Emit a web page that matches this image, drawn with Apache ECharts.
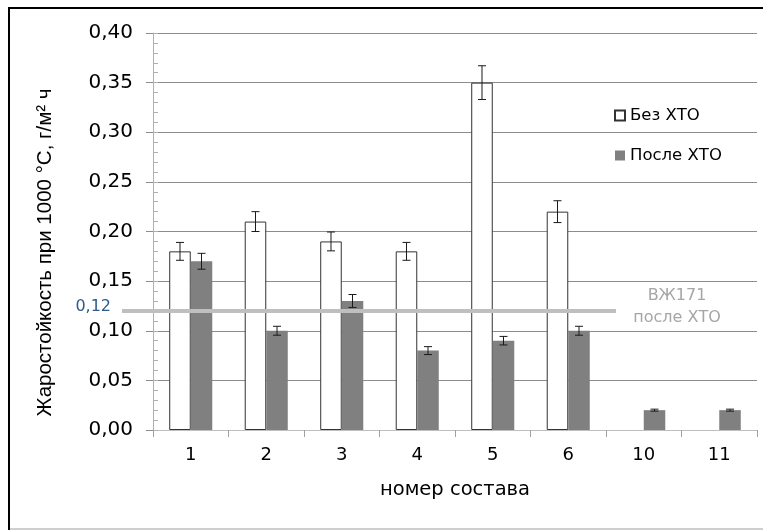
<!DOCTYPE html>
<html>
<head>
<meta charset="utf-8">
<script src="https://cdn.jsdelivr.net/npm/echarts@6/dist/echarts.min.js"></script>
<style>
  html, body { margin: 0; padding: 0; background: #fff; }
  #chart { width: 763px; height: 530px; }
</style>
</head>
<body>
<div id="chart"></div>
<script>
// Composition numbers along the x axis
const categories = ['1', '2', '3', '4', '5', '6', '10', '11'];

// Oxidation rate, g/(m²·h), without chemical-thermal treatment
const withoutTreatment    = [0.18, 0.21, 0.19, 0.18, 0.35, 0.22, null, null];
const withoutTreatmentErr = [0.009, 0.010, 0.0095, 0.009, 0.017, 0.011, null, null];

// Oxidation rate after chemical-thermal treatment
const afterTreatment    = [0.17, 0.10, 0.13, 0.08, 0.09, 0.10, 0.02, 0.02];
const afterTreatmentErr = [0.008, 0.0045, 0.0065, 0.004, 0.0043, 0.0045, 0.001, 0.001];

// Reference level for alloy ВЖ171 after treatment
const referenceValue = 0.12;
const referenceText = 'ВЖ171\nпосле ХТО';

const seriesNames = ['Без ХТО', 'После ХТО'];
const yMin = 0, yMax = 0.40, yStep = 0.05, yMinorStep = 0.01;

const FONT = 'DejaVu Sans, sans-serif';
const FONT_NARROW = 'Liberation Sans, Arial, sans-serif';
const BAR_FRACTION = 0.285;

const fmt = v => v.toFixed(2).replace('.', ',');

function errorItems(values, errs) {
  const out = [];
  values.forEach((v, i) => { if (v != null && errs[i] != null) out.push([i, v, errs[i]]); });
  return out;
}

function errorBarRenderer(side) {
  return function (params, api) {
    const idx = api.value(0);
    const v = api.value(1);
    const e = api.value(2);
    const band = api.size([1, 0])[0];
    const cx = api.coord([idx, v])[0] + side * band * BAR_FRACTION / 2;
    const yTop = api.coord([idx, v + e])[1];
    const yBot = api.coord([idx, v - e])[1];
    const cap = 4;
    const style = { stroke: '#1a1a1a', lineWidth: 1 };
    return {
      type: 'group',
      children: [
        { type: 'line', shape: { x1: cx, y1: yTop, x2: cx, y2: yBot }, style },
        { type: 'line', shape: { x1: cx - cap, y1: yTop, x2: cx + cap, y2: yTop }, style },
        { type: 'line', shape: { x1: cx - cap, y1: yBot, x2: cx + cap, y2: yBot }, style }
      ]
    };
  };
}

const chart = echarts.init(document.getElementById('chart'), null, { renderer: 'canvas' });

chart.setOption({
  animation: false,
  backgroundColor: '#fff',
  textStyle: { fontFamily: FONT },
  grid: { left: 153, right: 6, top: 33, bottom: 100, containLabel: false },
  legend: {
    data: seriesNames,
    orient: 'vertical',
    left: 609,
    top: 102,
    itemWidth: 10,
    itemHeight: 10,
    itemGap: 23,
    icon: 'rect',
    textStyle: { fontFamily: FONT, fontSize: 16.5, color: '#000' }
  },
  xAxis: {
    type: 'category',
    data: categories,
    name: 'номер состава',
    nameLocation: 'middle',
    nameGap: 50,
    nameTextStyle: { fontFamily: FONT, fontSize: 19.5, color: '#000' },
    axisLine: { lineStyle: { color: '#bfbfbf', width: 1 } },
    axisTick: { show: true, length: 7, lineStyle: { color: '#a0a0a0' } },
    axisLabel: { fontFamily: FONT, fontSize: 18, color: '#000', margin: 16 }
  },
  yAxis: [
    {
      type: 'value',
      min: yMin, max: yMax, interval: yStep,
      name: 'Жаростойкость при 1000 °С, г/м² ч',
      nameLocation: 'middle',
      nameGap: 97,
      nameTextStyle: { fontFamily: FONT_NARROW, fontSize: 20.5, color: '#000', padding: [0, 42, 0, 0] },
      axisLine: { show: true, lineStyle: { color: '#b0b0b0', width: 1 } },
      axisTick: { show: true, length: 7, lineStyle: { color: '#8c8c8c' } },
      axisLabel: { fontFamily: FONT, fontSize: 20, color: '#000', margin: 20, formatter: fmt },
      splitLine: { show: true, lineStyle: { color: '#8c8c8c', width: 1 } }
    },
    {
      // inner minor ticks
      type: 'value',
      position: 'left',
      offset: 0,
      min: yMin, max: yMax, interval: yMinorStep,
      axisLine: { show: false },
      axisTick: { show: true, inside: true, length: 5, lineStyle: { color: '#b0b0b0' } },
      axisLabel: { show: false },
      splitLine: { show: false }
    }
  ],
  series: [
    {
      name: seriesNames[0],
      type: 'bar',
      data: withoutTreatment,
      barWidth: (BAR_FRACTION * 100) + '%',
      barGap: '0%',
      itemStyle: { color: '#ffffff', borderColor: '#333333', borderWidth: 1 },
      z: 2
    },
    {
      name: seriesNames[1],
      type: 'bar',
      data: afterTreatment,
      barWidth: (BAR_FRACTION * 100) + '%',
      barGap: '0%',
      itemStyle: { color: '#808080' },
      z: 2,
      markLine: {
        silent: true,
        animation: false,
        symbol: ['none', 'none'],
        lineStyle: { color: '#bfbfbf', width: 4, type: 'solid' },
        emphasis: { disabled: true },
        data: [
          [
            {
              x: 122, yAxis: referenceValue,
              label: {
                show: true, position: 'start', distance: 11,
                formatter: '{v|' + fmt(referenceValue) + '}',
                rich: {
                  v: { color: '#2f5b8c', fontFamily: FONT, fontSize: 16, padding: [0, 0, 9, 0] }
                }
              }
            },
            { x: 370, yAxis: referenceValue }
          ],
          [
            { x: 370, yAxis: referenceValue,
              label: {
                show: true, position: 'end', distance: 61, align: 'center',
                formatter: referenceText.split('\n').map(s => '{t|' + s + '}').join('\n'),
                rich: {
                  t: { color: '#a6a6a6', fontFamily: FONT, fontSize: 16, lineHeight: 22 }
                },
                padding: [0, 0, 8, 0]
              }
            },
            { x: 616, yAxis: referenceValue }
          ]
        ],
        z: 5
      }
    },
    {
      type: 'custom',
      name: 'err0',
      renderItem: errorBarRenderer(-1),
      data: errorItems(withoutTreatment, withoutTreatmentErr),
      encode: { x: 0, y: 1 },
      z: 4,
      silent: true
    },
    {
      type: 'custom',
      name: 'err1',
      renderItem: errorBarRenderer(1),
      data: errorItems(afterTreatment, afterTreatmentErr),
      encode: { x: 0, y: 1 },
      z: 4,
      silent: true
    }
  ],
  graphic: [
    {
      type: 'rect',
      shape: { x: 9, y: 8, width: 770, height: 540 },
      style: { fill: null, stroke: '#000', lineWidth: 2 },
      silent: true, z: 100
    },
    {
      type: 'line',
      shape: { x1: 10, y1: 529, x2: 763, y2: 529 },
      style: { stroke: '#bfbfbf', lineWidth: 1.5 },
      silent: true, z: 100
    }
  ]
});
</script>
</body>
</html>
